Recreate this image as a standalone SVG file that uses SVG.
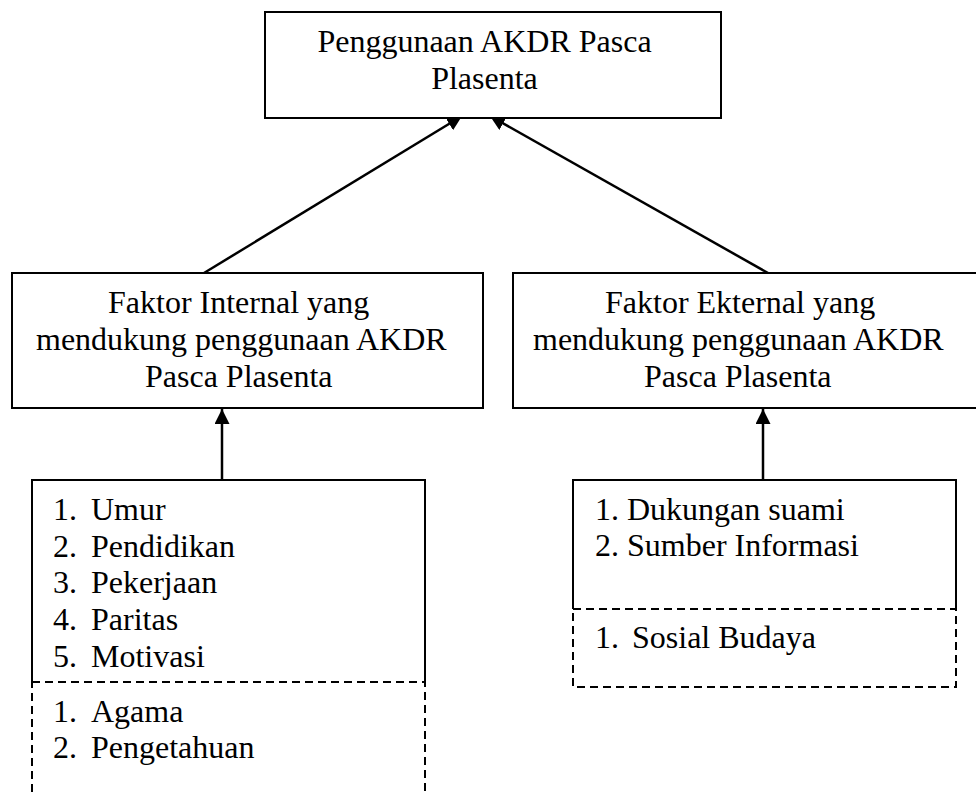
<svg xmlns="http://www.w3.org/2000/svg" width="976" height="792" viewBox="0 0 976 792">
<style>
text{font-family:"Liberation Serif","Times New Roman",serif;font-size:32px;fill:#000}
.box{fill:#fff;stroke:#000;stroke-width:2}
.open{fill:none;stroke:#000;stroke-width:2}
.dash{fill:none;stroke:#000;stroke-width:2;stroke-dasharray:8 5}
.conn{fill:none;stroke:#000;stroke-width:2.5}
</style>
<defs>
<marker id="arr" markerUnits="userSpaceOnUse" markerWidth="15" markerHeight="15" refX="15" refY="7.5" orient="auto">
<path d="M0,0 L15,7.5 L0,15 z" fill="#000"/>
</marker>
</defs>
<rect x="0" y="0" width="976" height="792" fill="#fff"/>
<g id="connectors">
<line class="conn" x1="204" y1="273" x2="462" y2="116" marker-end="url(#arr)"/>
<line class="conn" x1="768" y1="273" x2="490" y2="116" marker-end="url(#arr)"/>
<line class="conn" x1="222" y1="480" x2="222" y2="409" marker-end="url(#arr)"/>
<line class="conn" x1="763" y1="480" x2="763" y2="409" marker-end="url(#arr)"/>
</g>
<g id="node-top">
<rect class="box" x="265" y="12" width="456" height="106"/>
<text x="484.5" y="52" text-anchor="middle">Penggunaan AKDR Pasca</text>
<text x="484.5" y="89" text-anchor="middle">Plasenta</text>
</g>
<g id="node-internal">
<rect class="box" x="12" y="273" width="471" height="135"/>
<text x="108" y="313">Faktor Internal yang</text>
<text x="36" y="350">mendukung penggunaan AKDR</text>
<text x="145" y="387">Pasca Plasenta</text>
</g>
<g id="node-external">
<rect class="box" x="513" y="273" width="480" height="135"/>
<text x="605" y="313">Faktor Ekternal yang</text>
<text x="533" y="350">mendukung penggunaan AKDR</text>
<text x="644" y="387">Pasca Plasenta</text>
</g>
<g id="node-internal-list">
<path class="open" d="M32,682 V480 H425 V682"/>
<text><tspan x="53" y="520">1.</tspan><tspan x="91" y="520">Umur</tspan></text>
<text><tspan x="53" y="557">2.</tspan><tspan x="91" y="557">Pendidikan</tspan></text>
<text><tspan x="53" y="593">3.</tspan><tspan x="91" y="593">Pekerjaan</tspan></text>
<text><tspan x="53" y="630">4.</tspan><tspan x="91" y="630">Paritas</tspan></text>
<text><tspan x="53" y="667">5.</tspan><tspan x="91" y="667">Motivasi</tspan></text>
</g>
<g id="node-internal-other">
<rect class="dash" x="32" y="682" width="393" height="130"/>
<text><tspan x="53" y="722">1.</tspan><tspan x="91" y="722">Agama</tspan></text>
<text><tspan x="53" y="758">2.</tspan><tspan x="91" y="758">Pengetahuan</tspan></text>
</g>
<g id="node-external-list">
<path class="open" d="M573,609 V480 H956 V609"/>
<text x="595" y="520">1. Dukungan suami</text>
<text x="595" y="556">2. Sumber Informasi</text>
</g>
<g id="node-external-other">
<rect class="dash" x="573" y="609" width="383" height="78"/>
<text><tspan x="595" y="648">1.</tspan><tspan x="632" y="648">Sosial Budaya</tspan></text>
</g>
</svg>
